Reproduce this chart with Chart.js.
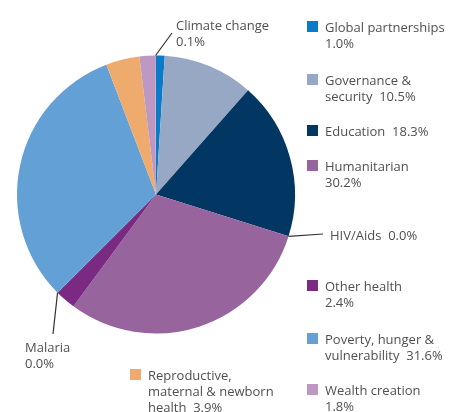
<!DOCTYPE html>
<html>
<head>
<meta charset="utf-8">
<script src="https://cdn.jsdelivr.net/npm/chart.js@4/dist/chart.umd.min.js"></script>
<style>
	html, body { margin: 0; padding: 0; background: #fff; }
	#wrap { position: relative; width: 451px; height: 412px; }
</style>
</head>
<body>
<div id="wrap"><canvas id="pie" width="451" height="412"></canvas></div>
<script>
// Aid spend by sector, share of total (%)
const categories = [
	'Global partnerships', 'Governance & security', 'Education', 'HIV/Aids',
	'Humanitarian', 'Other health', 'Malaria', 'Poverty, hunger & vulnerability',
	'Reproductive, maternal & newborn health', 'Wealth creation', 'Climate change'
];
const shares = [1.0, 10.5, 18.3, 0.0, 30.2, 2.4, 0.0, 31.6, 3.9, 1.8, 0.1];
const sliceColors = [
	'#0a7bc8', '#97a8c4', '#023764', '#023764',
	'#97649e', '#7a2a83', '#7a2a83', '#62a0d6',
	'#eeab6d', '#bc98c3', '#bc98c3'
];

// how each label is broken into lines; value goes on its own line or after the last one
const labelLines = [
	['Global partnerships'], ['Governance &', 'security'], ['Education'], ['HIV/Aids'],
	['Humanitarian'], ['Other health'], ['Malaria'], ['Poverty, hunger &', 'vulnerability'],
	['Reproductive,', 'maternal & newborn', 'health'], ['Wealth creation'], ['Climate change']
];
const valueInline = [false, true, true, true, false, false, false, true, true, false, false];

// where each label sits: x, first baseline, swatch or leader line
const labelPos = [
	{ x: 325, y: 32, swatch: true },
	{ x: 325, y: 85, swatch: true },
	{ x: 325, y: 136, swatch: true },
	{ x: 330, y: 240, leader: [323, 234] },
	{ x: 325, y: 171, swatch: true },
	{ x: 325, y: 291, swatch: true },
	{ x: 25, y: 352, leader: [53, 334] },
	{ x: 325, y: 344, swatch: true },
	{ x: 148, y: 380, swatch: true },
	{ x: 325, y: 395, swatch: true },
	{ x: 176, y: 30, leader: [172, 33] }
];

const textColor = '#505050';
const lineHeight = 16;

const labelsPlugin = {
	id: 'sectorLabels',
	afterDraw(chart) {
		const ctx = chart.ctx;
		const arcs = chart.getDatasetMeta(0).data;
		ctx.save();
		ctx.font = '13px "Open Sans", sans-serif';
		ctx.textBaseline = 'alphabetic';
		ctx.textAlign = 'left';

		categories.forEach((cat, i) => {
			const pos = labelPos[i];
			const value = shares[i].toFixed(1) + '%';
			const lines = labelLines[i].slice();
			if (valueInline[i]) {
				lines[lines.length - 1] += '  ' + value;
			} else {
				lines.push(value);
			}

			if (pos.swatch) {
				ctx.fillStyle = sliceColors[i];
				ctx.fillRect(pos.x - 18, pos.y - 11, 11, 11);
			}

			if (pos.leader) {
				// start the leader at the slice's outer edge, mid-angle
				const arc = arcs[i];
				const p = arc.getProps(['x', 'y', 'startAngle', 'endAngle', 'outerRadius'], true);
				const mid = (p.startAngle + p.endAngle) / 2;
				ctx.strokeStyle = '#333';
				ctx.lineWidth = 1.2;
				ctx.beginPath();
				ctx.moveTo(p.x + Math.cos(mid) * p.outerRadius, p.y + Math.sin(mid) * p.outerRadius);
				ctx.lineTo(pos.leader[0], pos.leader[1]);
				ctx.stroke();
			}

			ctx.fillStyle = textColor;
			lines.forEach((ln, k) => {
				ctx.fillText(ln, pos.x, pos.y + k * lineHeight);
			});
		});
		ctx.restore();
	}
};

const ctx = document.getElementById('pie');

new Chart(ctx, {
	type: 'pie',
	data: {
		labels: categories,
		datasets: [
			{
				data: shares,
				backgroundColor: sliceColors,
				borderWidth: 0
			}
		]
	},
	options: {
		responsive: false,
		animation: false,
		layout: {
			padding: { left: 17, right: 156, top: 55, bottom: 78 }
		},
		plugins: {
			legend: { display: false },
			tooltip: { enabled: false }
		}
	},
	plugins: [labelsPlugin]
});
</script>
</body>
</html>
